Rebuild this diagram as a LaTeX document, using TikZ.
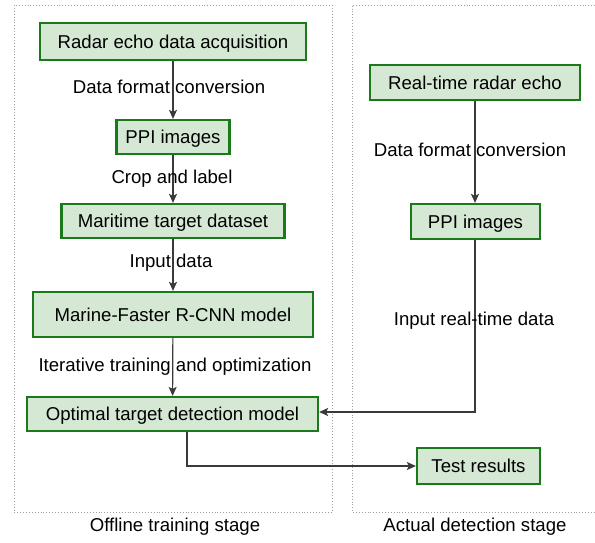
\documentclass[tikz,border=0pt]{standalone}
\usepackage{fontspec}
\setmainfont{Liberation Sans}
\usetikzlibrary{arrows.meta}
\definecolor{boxfill}{HTML}{D5E8D4}
\definecolor{boxdraw}{HTML}{1A7A1A}
\definecolor{linec}{HTML}{3A3A3A}
\tikzset{
  box/.style={draw=boxdraw, fill=boxfill, line width=2.2pt, inner sep=0pt, text height=13.3pt, text depth=0pt, font=\fontsize{18.6}{22}\selectfont, text=black},
  conn/.style={draw=linec, line width=1.2pt, -{Stealth[length=9pt,width=8pt,inset=2pt]}},
  lbl/.style={font=\fontsize{18.6}{22}\selectfont, text=black, inner sep=0pt},
  frame/.style={draw=gray!75, line width=0.9pt, dotted}
}
\begin{document}
\begin{tikzpicture}[x=1pt,y=-1pt]
\useasboundingbox (0,0) rectangle (595,542);
% frames
\draw[frame] (14,5) rectangle (332,512);
\draw[frame] (595,5) -- (352,5) -- (352,512) -- (595,512);
\node[lbl] (st1) at (175,527) {Offline training stage};
\node[lbl] (st2) at (475,527) {Actual detection stage};
% left column
\node[box, minimum width=266pt, minimum height=37pt] (a1) at (173,41.5) {Radar echo data acquisition};
\node[box, minimum width=113pt, minimum height=34pt] (a2) at (173,137) {PPI images};
\node[box, minimum width=223pt, minimum height=34pt] (a3) at (173,221) {Maritime target dataset};
\node[box, minimum width=280pt, minimum height=45pt] (a4) at (173,314.5) {Marine-Faster R-CNN model};
\node[box, minimum width=291pt, minimum height=34pt] (a5) at (172.5,414) {Optimal target detection model};
% right column
\node[box, minimum width=210pt, minimum height=35pt] (b1) at (475,82.5) {Real-time radar echo};
\node[box, minimum width=129pt, minimum height=35pt] (b2) at (475.5,221.5) {PPI images};
\node[box, minimum width=123pt, minimum height=36pt] (b3) at (478.5,466) {Test results};
% connectors
\draw[conn] (a1) -- (a2);
\draw[conn] (a2) -- (a3);
\draw[conn] (a3) -- (a4);
\draw[conn] (a4) -- (a5);
\draw[conn] (b1.south -| 475,0) -- (b2.north -| 475,0);
\coordinate (c1) at (475,412);
\draw[conn] (b2.south -| c1) -- (c1) -- (c1 -| a5.east);
\coordinate (c2) at (187,466);
\draw[conn] (a5.south -| c2) -- (c2) -- (b3.west);
% labels
\node[lbl] (l1) at (169,87) {Data format conversion};
\node[lbl] (l2) at (172,179) {Crop and label};
\node[lbl] (l3) at (171,263) {Input data};
\node[lbl] (l4) at (175,367) {Iterative training and optimization};
\node[lbl] (l5) at (470,150) {Data format conversion};
\node[lbl] (l6) at (474,321) {Input real-time data};
\end{tikzpicture}
\end{document}
